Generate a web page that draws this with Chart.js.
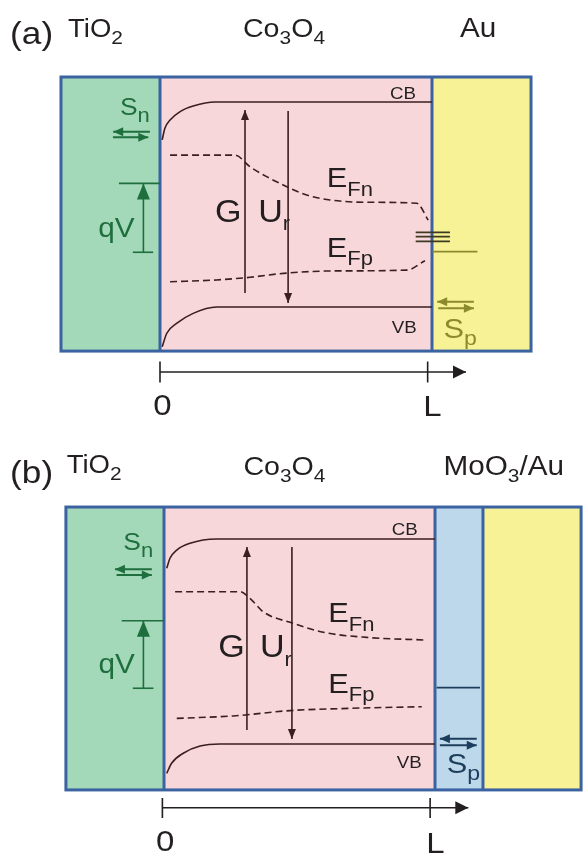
<!DOCTYPE html>
<html><head><meta charset="utf-8">
<script src="https://cdn.jsdelivr.net/npm/chart.js"></script>
<style>html,body{margin:0;padding:0;background:#fff;overflow:hidden}canvas{display:block}</style>
</head><body>
<canvas id="ca" width="583" height="428"></canvas>
<canvas id="cb" width="583" height="428"></canvas>
<script>
// ---------- data: x in units of Co3O4 thickness L (0 = TiO2/Co3O4 interface), y = energy (VB = 0, CB = 1) ----------
// Panel (a): TiO2 / Co3O4 / Au
const A_CB_X  = [0.008, 0.018, 0.037, 0.074, 0.122, 0.202, 1.0];
const A_CB_E  = [0.815, 0.872, 0.912, 0.953, 0.980, 1.0, 1.0];
const A_VB_X  = [0.008, 0.025, 0.061, 0.122, 0.208, 1.0];
const A_VB_E  = [-0.194, -0.128, -0.080, -0.031, 0.0, 0.0];
const A_EFN_X = [0.037, 0.276, 0.331, 0.392, 0.466, 0.539, 0.625, 0.760, 0.944, 0.986];
const A_EFN_E = [0.741, 0.741, 0.684, 0.636, 0.587, 0.546, 0.522, 0.511, 0.506, 0.424];
const A_EFP_X = [0.037, 0.208, 0.331, 0.454, 0.637, 0.907, 0.974];
const A_EFP_E = [0.123, 0.132, 0.145, 0.164, 0.176, 0.180, 0.226];
const A_TRAP_E = [0.364, 0.343, 0.320];
const A_TRAP_X = [0.940, 1.066];
const A_AU_EF_X = [1.002, 1.167];
const A_AU_EF_E = [0.270, 0.270];
const A_LAYERS = [-0.364, 0, 1, 1.364];      // TiO2 | Co3O4 | Au boundaries
const A_BOX_E  = [-0.215, 1.122];
const A_G_X = [0.3125, 0.3125], A_G_E = [0.068, 0.961];
const A_U_X = [0.471, 0.471],   A_U_E = [0.956, 0.020];
const A_SN_L_X = [-0.037, -0.172], A_SN_L_E = [0.855, 0.855];
const A_SN_R_X = [-0.173, -0.043], A_SN_R_E = [0.828, 0.828];
const A_SP_L_X = [1.154, 1.019],   A_SP_L_E = [0.026, 0.026];
const A_SP_R_X = [1.023, 1.154],   A_SP_R_E = [-0.006, -0.006];
const A_QV_TOP_X = [-0.151, 0],     A_QV_TOP_E = [0.603, 0.603];
const A_QV_BOT_X = [-0.100, -0.025], A_QV_BOT_E = [0.267, 0.267];
const A_QV_X = [-0.061, -0.061],     A_QV_E = [0.267, 0.603];
const A_AXIS_X = [0, 1.125], A_AXIS_E = [-0.317, -0.317];
const A_TICK_X = [0, 0.984], A_TICK_E = [-0.266, -0.368];

// Panel (b): TiO2 / Co3O4 / MoO3 / Au
const B_CB_X  = [0.010, 0.022, 0.047, 0.096, 0.194, 1.0];
const B_CB_E  = [0.857, 0.906, 0.946, 0.979, 1.0, 1.0];
const B_VB_X  = [0.010, 0.028, 0.071, 0.133, 0.207, 1.0];
const B_VB_E  = [-0.143, -0.094, -0.045, -0.010, 0.0, 0.0];
const B_EFN_X = [0.041, 0.280, 0.317, 0.366, 0.477, 0.588, 0.748, 0.969];
const B_EFN_E = [0.743, 0.743, 0.711, 0.645, 0.589, 0.545, 0.520, 0.507];
const B_EFP_X = [0.047, 0.256, 0.465, 0.686, 0.951];
const B_EFP_E = [0.125, 0.137, 0.163, 0.174, 0.182];
const B_MOO3_X = [1.006, 1.166];
const B_MOO3_E = [0.275, 0.275];
const B_LAYERS = [-0.362, 0, 1, 1.177, 1.539]; // TiO2 | Co3O4 | MoO3 | Au boundaries
const B_BOX_E  = [-0.224, 1.156];
const B_G_X = [0.306, 0.306], B_G_E = [0.068, 0.961];
const B_U_X = [0.472, 0.472], B_U_E = [0.961, 0.024];
const B_SN_L_X = [-0.045, -0.181], B_SN_L_E = [0.852, 0.852];
const B_SN_R_X = [-0.175, -0.045], B_SN_R_E = [0.824, 0.824];
const B_SP_L_X = [1.154, 1.018],   B_SP_L_E = [0.026, 0.026];
const B_SP_R_X = [1.018, 1.154],   B_SP_R_E = [-0.006, -0.006];
const B_QV_TOP_X = [-0.156, 0],      B_QV_TOP_E = [0.601, 0.601];
const B_QV_BOT_X = [-0.115, -0.039], B_QV_BOT_E = [0.272, 0.272];
const B_QV_X = [-0.076, -0.076],     B_QV_E = [0.272, 0.601];
const B_AXIS_X = [-0.006, 1.123], B_AXIS_E = [-0.311, -0.311];
const B_TICK_X = [-0.006, 0.982], B_TICK_E = [-0.263, -0.361];

// ---------- styles ----------
const C_BORDER = '#3b63a2', C_GREEN_F = '#a3d9b8', C_PINK = '#f7d7da', C_YELLOW = '#f7f296', C_BLUE = '#bcd8ea';
const C_DARK = '#3a1f20', C_TXT = '#231f20', C_GREEN = '#1f6e3d', C_OLIVE = '#8b8a2c', C_NAVY = '#1d3d5c';
const FONT = '"Liberation Sans", Arial, Helvetica, sans-serif';
const STRETCH = 1.1;

const A_LABELS = [
  {x:-0.551, y:1.283, runs:[['(a)',32]]},
  {x:-0.338, y:1.317, runs:[['TiO',25],['2',19,7]]},
  {x: 0.305, y:1.317, runs:[['Co',26],['3',19,7],['O',26],['4',19,7]]},
  {x: 1.103, y:1.317, runs:[['Au',27]]},
  {x: 0.202, y:0.416, runs:[['G',31]]},
  {x: 0.361, y:0.416, runs:[['U',31],['r',20,8]]},
  {x: 0.613, y:0.587, runs:[['E',28],['Fn',20,9]]},
  {x: 0.613, y:0.245, runs:[['E',28],['Fp',20,8]]},
  {x: 0.846, y:1.015, runs:[['CB',17]]},
  {x: 0.852, y:-0.127, runs:[['VB',17]]},
  {x:-0.147, y:0.937, runs:[['S',24],['n',20,7]], color:C_GREEN},
  {x:-0.227, y:0.343, runs:[['qV',27]], color:C_GREEN},
  {x: 1.042, y:-0.153, runs:[['S',28],['p',21,7]], color:C_OLIVE},
  {x: 0.009, y:-0.527, runs:[['0',30]], align:'center'},
  {x: 1.002, y:-0.532, runs:[['L',30]], align:'center'}
];
const B_LABELS = [
  {x:-0.568, y:1.273, runs:[['(b)',32]]},
  {x:-0.359, y:1.320, runs:[['TiO',25],['2',19,7]]},
  {x: 0.293, y:1.312, runs:[['Co',26],['3',19,7],['O',26],['4',19,7]]},
  {x: 1.031, y:1.312, runs:[['MoO',27],['3',19,7],['/Au',27]]},
  {x: 0.200, y:0.426, runs:[['G',31]]},
  {x: 0.354, y:0.426, runs:[['U',31],['r',20,9]]},
  {x: 0.606, y:0.597, runs:[['E',28],['Fn',20,9]]},
  {x: 0.606, y:0.247, runs:[['E',28],['Fp',20,8]]},
  {x: 0.840, y:1.020, runs:[['CB',17]]},
  {x: 0.859, y:-0.119, runs:[['VB',17]]},
  {x:-0.150, y:0.946, runs:[['S',24],['n',20,7]], color:C_GREEN},
  {x:-0.242, y:0.348, runs:[['qV',27]], color:C_GREEN},
  {x: 1.043, y:-0.143, runs:[['S',28],['p',21,7]], color:C_NAVY},
  {x: 0.004, y:-0.522, runs:[['0',30]], align:'center'},
  {x: 1.002, y:-0.532, runs:[['L',30]], align:'center'}
];

// ---------- builder ----------
function pts(xs, es){ return xs.map((x,i)=>({x:x, y:es[i]})); }
function ds(xs, es, color, extra){
  return Object.assign({data:pts(xs,es), showLine:true, borderColor:color, backgroundColor:color,
    borderWidth:1.6, pointRadius:0, pointHoverRadius:0, tension:0, fill:false}, extra||{});
}

const panelPlugin = {
  id:'panel',
  beforeDatasetsDraw(chart){
    const P = chart.options.plugins.panel, ctx = chart.ctx, sx = chart.scales.x, sy = chart.scales.y;
    const yT = sy.getPixelForValue(P.boxE[1]), yB = sy.getPixelForValue(P.boxE[0]);
    ctx.save();
    for (let i=0;i<P.layers.length-1;i++){
      const x0 = sx.getPixelForValue(P.layers[i]), x1 = sx.getPixelForValue(P.layers[i+1]);
      ctx.fillStyle = P.fills[i];
      ctx.fillRect(x0, yT, x1-x0, yB-yT);
    }
    ctx.strokeStyle = C_BORDER; ctx.lineWidth = 3;
    const xl = sx.getPixelForValue(P.layers[0]), xr = sx.getPixelForValue(P.layers[P.layers.length-1]);
    ctx.strokeRect(xl, yT, xr-xl, yB-yT);
    for (let i=1;i<P.layers.length-1;i++){
      const x = sx.getPixelForValue(P.layers[i]);
      ctx.beginPath(); ctx.moveTo(x, yT); ctx.lineTo(x, yB); ctx.stroke();
    }
    ctx.restore();
  },
  afterDatasetsDraw(chart){
    const ctx = chart.ctx;
    chart.data.datasets.forEach((d,i)=>{
      if(!d.arrow) return;
      const p = chart.getDatasetMeta(i).data;
      const a = p[p.length-2], b = p[p.length-1];
      const ang = Math.atan2(b.y-a.y, b.x-a.x);
      const L = d.arrow[0], W = d.arrow[1];
      ctx.save();
      ctx.translate(b.x, b.y); ctx.rotate(ang);
      ctx.fillStyle = d.borderColor;
      ctx.beginPath(); ctx.moveTo(0,0); ctx.lineTo(-L, W); ctx.lineTo(-L, -W); ctx.closePath(); ctx.fill();
      ctx.restore();
    });
    const P = chart.options.plugins.panel, sx = chart.scales.x, sy = chart.scales.y;
    P.labels.forEach(lb=>{
      const px = sx.getPixelForValue(lb.x), py = sy.getPixelForValue(lb.y);
      ctx.save();
      ctx.translate(px, py); ctx.scale(STRETCH, 1);
      ctx.fillStyle = lb.color || C_TXT; ctx.textBaseline = 'alphabetic'; ctx.textAlign = 'left';
      let w = 0;
      lb.runs.forEach(r=>{ ctx.font = r[1]+'px '+FONT; w += ctx.measureText(r[0]).width; });
      let cx = lb.align === 'center' ? -w/2 : 0;
      lb.runs.forEach(r=>{ ctx.font = r[1]+'px '+FONT; ctx.fillText(r[0], cx, r[2]||0); cx += ctx.measureText(r[0]).width; });
      ctx.restore();
    });
  }
};

function build(id, P){
  new Chart(document.getElementById(id), {
    type:'scatter',
    data:{datasets:P.datasets},
    options:{
      responsive:false, animation:false, devicePixelRatio:1, events:[],
      layout:{padding:0},
      scales:{
        x:{type:'linear', min:P.xMin, max:P.xMax, display:false},
        y:{type:'linear', min:P.yMin, max:P.yMax, display:false}
      },
      plugins:{legend:{display:false}, tooltip:{enabled:false},
        panel:{layers:P.layers, fills:P.fills, boxE:P.boxE, labels:P.labels}}
    },
    plugins:[panelPlugin]
  });
}

const CURVE = {cubicInterpolationMode:'monotone'};
const DASH = {cubicInterpolationMode:'monotone', borderDash:[7,4]};
const SMALL = {arrow:[10,4.5], borderWidth:2};

build('ca', {
  xMin:-0.5882, xMax:1.5551, yMin:-0.5902, yMax:1.4976,
  layers:A_LAYERS, fills:[C_GREEN_F, C_PINK, C_YELLOW], boxE:A_BOX_E, labels:A_LABELS,
  datasets:[
    ds(A_CB_X, A_CB_E, C_DARK, CURVE),
    ds(A_VB_X, A_VB_E, C_DARK, CURVE),
    ds(A_EFN_X, A_EFN_E, C_DARK, DASH),
    ds(A_EFP_X, A_EFP_E, C_DARK, DASH),
    ds(A_G_X, A_G_E, C_DARK, {arrow:[10,4]}),
    ds(A_U_X, A_U_E, C_DARK, {arrow:[10,4]}),
    ds(A_SN_L_X, A_SN_L_E, C_GREEN, SMALL),
    ds(A_SN_R_X, A_SN_R_E, C_GREEN, SMALL),
    ds(A_QV_TOP_X, A_QV_TOP_E, C_GREEN),
    ds(A_QV_BOT_X, A_QV_BOT_E, C_GREEN),
    ds(A_QV_X, A_QV_E, C_GREEN, {arrow:[16,6.5]}),
    ds(A_TRAP_X, [A_TRAP_E[0], A_TRAP_E[0]], '#3d3a22', {borderWidth:1.8}),
    ds(A_TRAP_X, [A_TRAP_E[1], A_TRAP_E[1]], '#3d3a22', {borderWidth:1.8}),
    ds(A_TRAP_X, [A_TRAP_E[2], A_TRAP_E[2]], '#3d3a22', {borderWidth:1.8}),
    ds(A_AU_EF_X, A_AU_EF_E, C_OLIVE, {borderWidth:1.8}),
    ds(A_SP_L_X, A_SP_L_E, C_OLIVE, SMALL),
    ds(A_SP_R_X, A_SP_R_E, C_OLIVE, SMALL),
    ds(A_AXIS_X, A_AXIS_E, C_TXT, {arrow:[13,6.5]}),
    ds([A_TICK_X[0], A_TICK_X[0]], A_TICK_E, C_TXT),
    ds([A_TICK_X[1], A_TICK_X[1]], A_TICK_E, C_TXT)
  ]
});

build('cb', {
  xMin:-0.6052, xMax:1.5461, yMin:-0.5463, yMax:1.5415,
  layers:B_LAYERS, fills:[C_GREEN_F, C_PINK, C_BLUE, C_YELLOW], boxE:B_BOX_E, labels:B_LABELS,
  datasets:[
    ds(B_CB_X, B_CB_E, C_DARK, CURVE),
    ds(B_VB_X, B_VB_E, C_DARK, CURVE),
    ds(B_EFN_X, B_EFN_E, C_DARK, DASH),
    ds(B_EFP_X, B_EFP_E, C_DARK, DASH),
    ds(B_G_X, B_G_E, C_DARK, {arrow:[10,4]}),
    ds(B_U_X, B_U_E, C_DARK, {arrow:[10,4]}),
    ds(B_SN_L_X, B_SN_L_E, C_GREEN, SMALL),
    ds(B_SN_R_X, B_SN_R_E, C_GREEN, SMALL),
    ds(B_QV_TOP_X, B_QV_TOP_E, C_GREEN),
    ds(B_QV_BOT_X, B_QV_BOT_E, C_GREEN),
    ds(B_QV_X, B_QV_E, C_GREEN, {arrow:[16,6.5]}),
    ds(B_MOO3_X, B_MOO3_E, C_NAVY),
    ds(B_SP_L_X, B_SP_L_E, C_NAVY, SMALL),
    ds(B_SP_R_X, B_SP_R_E, C_NAVY, SMALL),
    ds(B_AXIS_X, B_AXIS_E, C_TXT, {arrow:[13,6.5]}),
    ds([B_TICK_X[0], B_TICK_X[0]], B_TICK_E, C_TXT),
    ds([B_TICK_X[1], B_TICK_X[1]], B_TICK_E, C_TXT)
  ]
});
</script>
</body></html>
